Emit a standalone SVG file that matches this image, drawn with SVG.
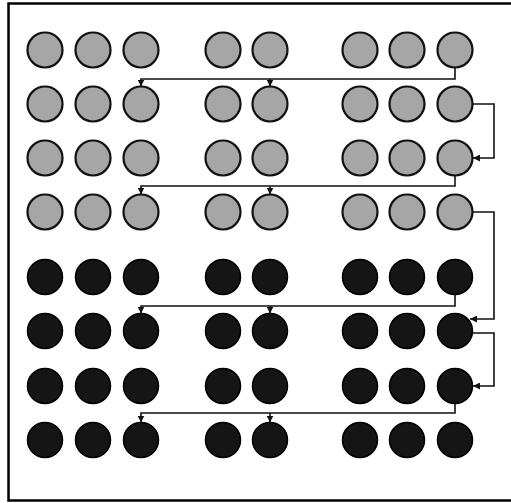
<svg xmlns="http://www.w3.org/2000/svg" width="511" height="503" viewBox="0 0 511 503">
<style>
.g{fill:#a6a6a6;stroke:#111;stroke-width:2.2}
.d{fill:#151515;stroke:#000;stroke-width:1.5}
.c{fill:none;stroke:#111;stroke-width:1.6}
.frame{stroke:#000;stroke-width:2.5;fill:none}
</style>
<defs>
<marker id="a" viewBox="0 0 10 10" refX="10" refY="5" markerWidth="7" markerHeight="7" orient="auto" markerUnits="userSpaceOnUse"><path d="M0,0 L10,5 L0,10 z" fill="#111"/></marker>
<g id="rowG"><circle class="g" cx="45" cy="0" r="17.5"/><circle class="g" cx="93" cy="0" r="17.5"/><circle class="g" cx="141" cy="0" r="17.5"/><circle class="g" cx="223" cy="0" r="17.5"/><circle class="g" cx="270" cy="0" r="17.5"/><circle class="g" cx="360" cy="0" r="17.5"/><circle class="g" cx="407" cy="0" r="17.5"/><circle class="g" cx="455" cy="0" r="17.5"/></g>
<g id="rowD"><circle class="d" cx="45" cy="0" r="17.5"/><circle class="d" cx="93" cy="0" r="17.5"/><circle class="d" cx="141" cy="0" r="17.5"/><circle class="d" cx="223" cy="0" r="17.5"/><circle class="d" cx="270" cy="0" r="17.5"/><circle class="d" cx="360" cy="0" r="17.5"/><circle class="d" cx="407" cy="0" r="17.5"/><circle class="d" cx="455" cy="0" r="17.5"/></g>
</defs>
<rect width="511" height="503" fill="#fff"/>
<path class="frame" d="M520,3.5 H8.5 V500.5 H520"/>
<g id="row1"><use href="#rowG" y="50"/></g>
<g id="row2"><use href="#rowG" y="104"/></g>
<g id="row3"><use href="#rowG" y="158"/></g>
<g id="row4"><use href="#rowG" y="212"/></g>
<g id="row5"><use href="#rowD" y="277"/></g>
<g id="row6"><use href="#rowD" y="331"/></g>
<g id="row7"><use href="#rowD" y="386"/></g>
<g id="row8"><use href="#rowD" y="440"/></g>
<g id="connectors">
<path class="c" d="M455,67.5 V79 H141 V86.5" marker-end="url(#a)"/>
<path class="c" d="M270,79 V86.5" marker-end="url(#a)"/>
<path class="c" d="M472.5,104 H494 V158 H473" marker-end="url(#a)"/>
<path class="c" d="M455,175.5 V186 H141 V194.5" marker-end="url(#a)"/>
<path class="c" d="M270,186 V194.5" marker-end="url(#a)"/>
<path class="c" d="M472.5,212 H494 V319 H470" marker-end="url(#a)"/>
<path class="c" d="M455,294.5 V306 H141 V313.5" marker-end="url(#a)"/>
<path class="c" d="M270,306 V313.5" marker-end="url(#a)"/>
<path class="c" d="M472.5,333 H494 V386 H473" marker-end="url(#a)"/>
<path class="c" d="M455,403.5 V413 H141 V422.5" marker-end="url(#a)"/>
<path class="c" d="M270,413 V422.5" marker-end="url(#a)"/>
</g>
</svg>
